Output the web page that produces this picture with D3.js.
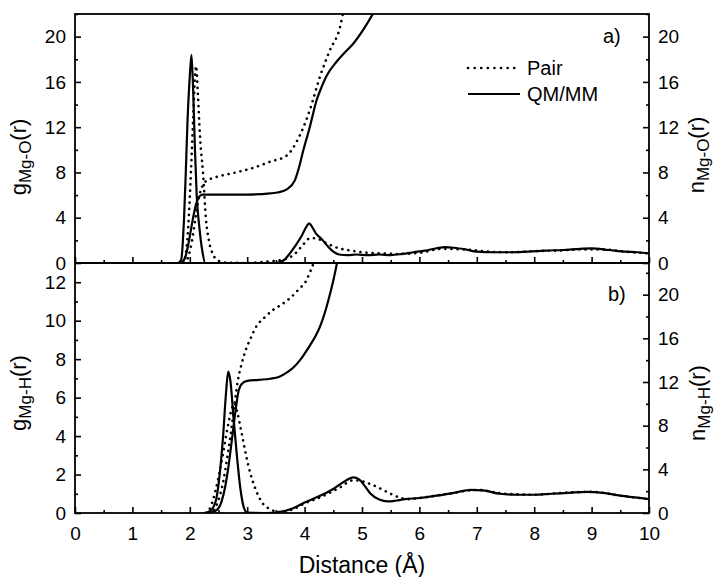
<!DOCTYPE html>
<html>
<head>
<meta charset="utf-8">
<script src="https://cdn.jsdelivr.net/npm/d3@7"></script>
<style>
  body { margin: 0; background: #fff; }
  svg { font-family: "Liberation Sans", Arial, sans-serif; }
</style>
</head>
<body>
<div id="chart"></div>
<script>
// ---- data ----
// panel a) Mg-O
const rOQm = [1.8,1.85,1.9,1.93,1.96,2.0,2.03,2.06,2.09,2.12,2.17,2.22,2.27,2.5,3.0,3.5,3.65,3.75,3.85,3.95,4.03,4.08,4.13,4.2,4.3,4.4,4.5,4.6,4.75,4.9,5.1,5.3,5.5,5.7,5.9,6.1,6.3,6.45,6.6,6.8,7.0,7.3,7.6,7.9,8.2,8.5,8.8,9.0,9.3,9.6,9.8,10];
const gOQm = [0,0.3,4,8,12.5,16.5,18.4,15,10,6,3,1,0,0,0,0,0.3,0.9,1.6,2.4,3.2,3.5,3.2,2.6,2.1,1.5,1.0,0.75,0.7,0.75,0.7,0.75,0.7,0.8,0.95,1.1,1.3,1.4,1.35,1.2,1.0,0.95,0.95,1.0,1.1,1.15,1.25,1.3,1.15,1.0,0.95,0.85];
const rOPair = [1.88,1.92,1.97,2.02,2.06,2.09,2.11,2.14,2.18,2.23,2.28,2.34,2.4,2.5,2.6,3.0,3.3,3.5,3.7,3.85,3.97,4.1,4.25,4.4,4.6,4.8,5.0,5.3,5.6,6.0,6.4,6.8,7.2,7.6,8.0,8.4,8.8,9.2,9.6,10];
const gOPair = [0,0.5,3,8,13,16.5,17.4,15,11,8,4,1.8,0.8,0.2,0.05,0,0.1,0.2,0.4,0.9,1.6,2.2,2.1,1.7,1.3,1.1,0.95,0.85,0.8,0.9,1.25,1.2,1.0,0.95,1.05,1.1,1.2,1.2,1.0,0.85];
const rnOQm = [1.85,1.92,1.98,2.05,2.11,2.17,2.23,2.5,3.0,3.4,3.55,3.69,3.83,3.9,3.98,4.09,4.21,4.3,4.38,4.56,4.7,4.85,5.02,5.2,5.3];
const nOQm = [0,0.5,1.8,3.8,5.2,5.9,6.05,6.05,6.05,6.15,6.25,6.5,7.3,8.4,10.0,12.0,14.4,15.6,16.5,17.8,18.6,19.4,20.6,22.1,23];
const rnOPair = [1.9,1.97,2.04,2.1,2.16,2.22,2.3,2.4,2.8,3.1,3.4,3.69,3.86,3.98,4.09,4.27,4.44,4.62,4.67,4.72];
const nOPair = [0,0.5,2,4,5.8,6.8,7.3,7.5,8.0,8.4,8.95,9.5,10.7,12.0,13.5,16.5,18.8,20.9,22.1,23];

// panel b) Mg-H
const rHQm = [2.25,2.35,2.45,2.52,2.58,2.63,2.67,2.71,2.76,2.82,2.88,2.94,3.0,3.3,3.6,3.8,4.0,4.2,4.5,4.7,4.85,4.95,5.05,5.15,5.3,5.45,5.6,5.75,6.0,6.3,6.6,6.9,7.1,7.4,7.7,8.0,8.3,8.6,8.9,9.2,9.5,9.8,10];
const gHQm = [0,0.1,0.6,2,4,6.2,7.35,6.8,5,3,1.3,0.3,0.02,0,0.08,0.25,0.55,0.8,1.25,1.65,1.85,1.75,1.4,1.0,0.7,0.6,0.65,0.72,0.78,0.9,1.05,1.2,1.18,1.0,0.95,0.95,1.0,1.05,1.1,1.05,0.9,0.8,0.72];
const rHPair = [2.28,2.36,2.45,2.55,2.65,2.73,2.78,2.83,2.9,2.98,3.06,3.15,3.27,3.4,3.56,3.8,4.0,4.3,4.6,4.85,5.0,5.15,5.3,5.5,5.66,5.8,6.0,6.5,7.0,7.5,8.0,8.5,9.0,9.5,10];
const gHPair = [0,0.3,1.2,2.6,4.3,5.4,5.7,5.2,4.2,3.0,2.0,1.2,0.5,0.2,0.05,0.2,0.5,0.85,1.3,1.7,1.65,1.5,1.3,1.0,0.8,0.72,0.78,1.0,1.2,1.0,0.95,1.05,1.1,0.9,0.72];
const rnHQm = [2.3,2.45,2.55,2.62,2.68,2.74,2.8,2.85,2.9,3.0,3.2,3.4,3.55,3.7,3.8,3.92,4.0,4.1,4.2,4.27,4.35,4.42,4.5,4.56,4.6];
const nHQm = [0,0.2,1.0,2.5,4.5,7.0,9.5,11.2,11.8,12.1,12.2,12.3,12.45,12.9,13.3,14.0,14.6,15.4,16.3,17.1,18.3,19.6,21.3,22.8,24];
const rnHPair = [2.33,2.42,2.5,2.58,2.65,2.72,2.78,2.84,2.9,2.98,3.06,3.16,3.3,3.45,3.6,3.75,3.9,4.03,4.12,4.2];
const nHPair = [0,0.3,1.2,2.8,5.0,7.5,10,12.2,13.6,15.0,16.0,17.1,17.9,18.6,19.1,19.7,20.5,21.3,22.4,23.5];

const xTicks = [0,1,2,3,4,5,6,7,8,9,10];
const gOTicks = [0,4,8,12,16,20];
const nOTicks = [0,4,8,12,16,20];
const gHTicks = [0,2,4,6,8,10,12];
const nHTicks = [0,4,8,12,16,20];

const zip = (r, v) => r.map((d, i) => [d, v[i]]);

// ---- layout ----
const W = 720, H = 577;
const xLeft = 75, xRight = 649, yTop = 14, yMid = 263, yBottom = 513;

const svg = d3.select("#chart").append("svg")
    .attr("width", W).attr("height", H);

const x = d3.scaleLinear().domain([0, 10]).range([xLeft, xRight]);
const yA = d3.scaleLinear().domain([0, 22]).range([yMid, yTop]);
const yAn = d3.scaleLinear().domain([0, 22]).range([yMid, yTop]);
const yB = d3.scaleLinear().domain([0, 13]).range([yBottom, yMid]);
const yBn = d3.scaleLinear().domain([0, 22.9]).range([yBottom, yMid]);

// clips
const defs = svg.append("defs");
defs.append("clipPath").attr("id", "clipA").append("rect")
    .attr("x", xLeft).attr("y", yTop).attr("width", xRight - xLeft).attr("height", yMid - yTop);
defs.append("clipPath").attr("id", "clipB").append("rect")
    .attr("x", xLeft).attr("y", yMid).attr("width", xRight - xLeft).attr("height", yBottom - yMid);

function drawLine(g, pts, yScale, dotted) {
    const line = d3.line()
        .x(d => x(d[0]))
        .y(d => yScale(d[1]))
        .curve(d3.curveMonotoneX);
    const p = g.append("path")
        .datum(pts)
        .attr("d", line)
        .attr("fill", "none")
        .attr("stroke", "#000");
    if (dotted) {
        p.attr("stroke-width", 2.6)
         .attr("stroke-linecap", "round")
         .attr("stroke-dasharray", "0.1,6");
    } else {
        p.attr("stroke-width", 2.2)
         .attr("stroke-linejoin", "round");
    }
}

const gA = svg.append("g").attr("clip-path", "url(#clipA)");
drawLine(gA, zip(rOPair, gOPair), yA, true);
drawLine(gA, zip(rnOPair, nOPair), yAn, true);
drawLine(gA, zip(rOQm, gOQm), yA, false);
drawLine(gA, zip(rnOQm, nOQm), yAn, false);

const gB = svg.append("g").attr("clip-path", "url(#clipB)");
drawLine(gB, zip(rHPair, gHPair), yB, true);
drawLine(gB, zip(rnHPair, nHPair), yBn, true);
drawLine(gB, zip(rHQm, gHQm), yB, false);
drawLine(gB, zip(rnHQm, nHQm), yBn, false);

// ---- axes ----
function minorOf(major, step) {
    const out = [];
    for (let i = 0; i < major.length - 1; i++) out.push(major[i] + step);
    return out;
}

function styleAxis(sel) {
    sel.select(".domain").remove();
    sel.selectAll(".tick line").attr("stroke", "#000").attr("stroke-width", 1.6);
    sel.selectAll(".tick text").attr("fill", "#000").attr("font-size", 19)
        .attr("font-family", "'Liberation Sans', Arial, sans-serif");
}

function addAxis(axisFn, scale, major, minorStep, transform, labels, extraMinor) {
    const minor = minorOf(major, minorStep).concat(extraMinor || []);
    svg.append("g").attr("transform", transform)
        .call(axisFn(scale).tickValues(minor).tickSize(-3).tickFormat(""))
        .call(styleAxis);
    return svg.append("g").attr("transform", transform)
        .call(axisFn(scale).tickValues(major).tickSize(-6).tickPadding(9)
            .tickFormat(labels ? d3.format("d") : ""))
        .call(styleAxis);
}

// x axes (ticks inward)
addAxis(d3.axisBottom, x, xTicks, 0.5, `translate(0,${yMid})`, false);
addAxis(d3.axisBottom, x, xTicks, 0.5, `translate(0,${yBottom})`, true)
    .selectAll(".tick text").attr("dy", "0.95em");

// y axes
addAxis(d3.axisLeft, yA, gOTicks, 2, `translate(${xLeft},0)`, true, [22]);
addAxis(d3.axisRight, yAn, nOTicks, 2, `translate(${xRight},0)`, true, [22]);
addAxis(d3.axisLeft, yB, gHTicks, 1, `translate(${xLeft},0)`, true);
addAxis(d3.axisRight, yBn, nHTicks, 2, `translate(${xRight},0)`, true, [22]);

// frame
svg.append("rect")
    .attr("x", xLeft).attr("y", yTop)
    .attr("width", xRight - xLeft).attr("height", yBottom - yTop)
    .attr("fill", "none").attr("stroke", "#000").attr("stroke-width", 1.8);
svg.append("line")
    .attr("x1", xLeft).attr("x2", xRight).attr("y1", yMid).attr("y2", yMid)
    .attr("stroke", "#000").attr("stroke-width", 1.8);

// ---- titles ----
svg.append("text")
    .attr("x", (xLeft + xRight) / 2).attr("y", 573)
    .attr("text-anchor", "middle")
    .attr("font-size", 23)
    .text("Distance (Å)");

function axisTitle(xPos, yPos, main, sub) {
    const t = svg.append("text")
        .attr("transform", `translate(${xPos},${yPos}) rotate(-90)`)
        .attr("text-anchor", "middle")
        .attr("font-size", 22);
    t.append("tspan").text(main);
    t.append("tspan").attr("font-size", 17).attr("dy", 5).text(sub);
    t.append("tspan").attr("dy", -5).text("(r)");
}
axisTitle(26, 157, "g", "Mg-O");
axisTitle(26, 393, "g", "Mg-H");
axisTitle(704, 155, "n", "Mg-O");
axisTitle(705, 403, "n", "Mg-H");

// panel tags
svg.append("text").attr("x", 603).attr("y", 43).attr("font-size", 20).text("a)");
svg.append("text").attr("x", 608).attr("y", 301).attr("font-size", 20).text("b)");

// legend
const legend = [
    { name: "Pair", dotted: true, y: 68 },
    { name: "QM/MM", dotted: false, y: 94 }
];
legend.forEach(d => {
    const l = svg.append("line")
        .attr("x1", 468).attr("x2", 520).attr("y1", d.y).attr("y2", d.y)
        .attr("stroke", "#000");
    if (d.dotted) {
        l.attr("stroke-width", 2.6).attr("stroke-linecap", "round").attr("stroke-dasharray", "0.1,6.5");
    } else {
        l.attr("stroke-width", 2.2);
    }
    svg.append("text")
        .attr("x", 527).attr("y", d.y + 7)
        .attr("font-size", 20)
        .text(d.name);
});
</script>
</body>
</html>
